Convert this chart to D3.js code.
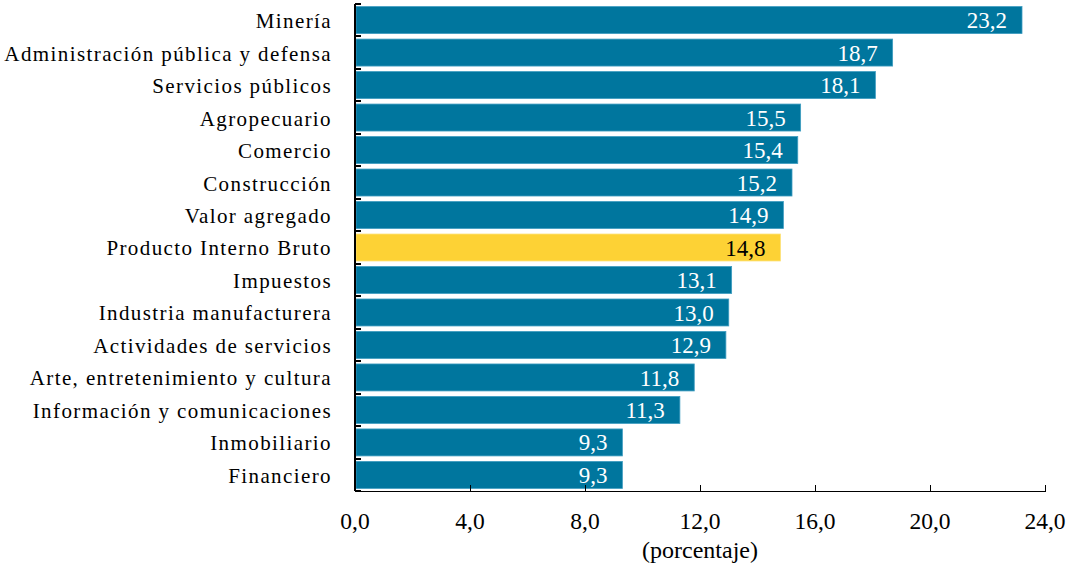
<!DOCTYPE html>
<html>
<head>
<meta charset="UTF-8">
<script src="https://d3js.org/d3.v7.min.js"></script>
</head>
<body style="margin:0">
<script>
const categories = [
  "Minería", "Administración pública y defensa", "Servicios públicos", "Agropecuario",
  "Comercio", "Construcción", "Valor agregado", "Producto Interno Bruto", "Impuestos",
  "Industria manufacturera", "Actividades de servicios", "Arte, entretenimiento y cultura",
  "Información y comunicaciones", "Inmobiliario", "Financiero"
];
const values = [23.2, 18.7, 18.1, 15.5, 15.4, 15.2, 14.9, 14.8, 13.1, 13.0, 12.9, 11.8, 11.3, 9.3, 9.3];
const highlight = "Producto Interno Bruto";
const xTicks = [0, 4, 8, 12, 16, 20, 24];
const xTitle = "(porcentaje)";

const width = 1069, height = 567;
const margin = { top: 4, right: 24, bottom: 76, left: 354 };

const svg = d3.select("body").append("svg")
  .attr("width", width).attr("height", height);

const x = d3.scaleLinear().domain([0, 24]).range([margin.left + 1, width - margin.right]);
const y = d3.scaleBand().domain(categories)
  .range([margin.top, height - margin.bottom]).paddingInner(0.17).paddingOuter(0.08);

const fmt = v => v.toFixed(1).replace(".", ",");

// bars
svg.selectAll(".bar").data(categories).enter().append("rect")
  .attr("x", x(0) + 1)
  .attr("y", d => y(d))
  .attr("width", (d, i) => x(values[i]) - x(0) - 1)
  .attr("height", y.bandwidth())
  .attr("fill", d => d === highlight ? "#fdd235" : "#00769e")
  .attr("stroke", d => d === highlight ? "#fde27a" : "#3d9cc0")
  .attr("stroke-width", 0.8);

// value labels
svg.selectAll(".val").data(categories).enter().append("text")
  .attr("x", (d, i) => x(values[i]) - 15)
  .attr("y", d => y(d) + y.bandwidth() / 2)
  .attr("dy", "0.35em")
  .attr("text-anchor", "end")
  .attr("font-size", 23)
  .style("font-family", d => "Liberation Serif")
  .attr("fill", d => d === highlight ? "#000" : "#fff")
  .text((d, i) => fmt(values[i]));

// y axis: line + ticks at band boundaries pointing right
const step = y.step();
const yBounds = d3.range(categories.length + 1).map(i => margin.top + i * step);
const yAxis = svg.append("g");
yAxis.append("line")
  .attr("x1", x(0)).attr("x2", x(0))
  .attr("y1", margin.top).attr("y2", height - margin.bottom)
  .attr("stroke", "#000").attr("stroke-width", 1.3).attr("shape-rendering", "crispEdges");
yAxis.selectAll(".yt").data(yBounds).enter().append("line")
  .attr("x1", x(0)).attr("x2", x(0) + 6)
  .attr("y1", d => Math.round(d)).attr("y2", d => Math.round(d))
  .attr("stroke", "#000").attr("stroke-width", 1.3).attr("shape-rendering", "crispEdges");

svg.selectAll(".cat").data(categories).enter().append("text")
  .attr("x", x(0) - 23)
  .attr("y", d => y(d) + y.bandwidth() / 2)
  .attr("dy", "0.38em")
  .attr("text-anchor", "end")
  .attr("font-size", 21)
  .attr("letter-spacing", 1.4)
  .style("font-family", d => "Liberation Serif")
  .text(d => d);

// x axis
svg.append("g")
  .attr("transform", `translate(0,${height - margin.bottom})`)
  .call(d3.axisBottom(x).tickValues(xTicks).tickSizeInner(-6).tickSizeOuter(0).tickPadding(0).tickFormat(""))
  .attr("font-family", null)
  .call(g => g.selectAll(".tick text").remove())
  .call(g => g.selectAll("path, line").attr("stroke", "#000").attr("stroke-width", 1.3).attr("shape-rendering", "crispEdges"));

svg.selectAll(".xl").data(xTicks).enter().append("text")
  .attr("x", d => x(d))
  .attr("y", 529)
  .attr("text-anchor", "middle")
  .attr("font-size", 23.5)
  .style("font-family", d => "Liberation Serif")
  .text(d => fmt(d));

svg.append("text")
  .attr("x", (x(0) + x(24)) / 2)
  .attr("y", 558)
  .attr("text-anchor", "middle")
  .attr("font-size", 24)
  .style("font-family", "Liberation Serif")
  .text(xTitle);
</script>
</body>
</html>
